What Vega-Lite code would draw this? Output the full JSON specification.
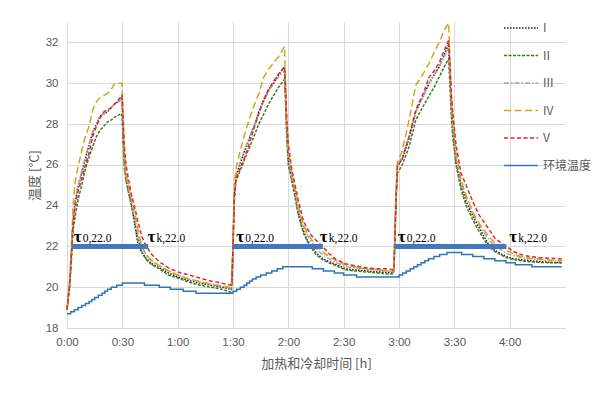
{
  "$schema": "https://vega.github.io/schema/vega-lite/v6.json",
  "width": 498,
  "height": 306,
  "autosize": {"type": "none"},
  "padding": {"left": 67, "top": 22, "right": 35, "bottom": 67},
  "background": "white",
  "config": {
    "view": {"stroke": null},
    "font": "Liberation Sans",
    "axis": {
      "labelColor": "#595959",
      "labelFontSize": 11.5,
      "titleColor": "#595959",
      "titleFont": "Noto Sans CJK SC",
      "titleFontSize": 13,
      "titleFontWeight": "normal",
      "gridColor": "#d9d9d9",
      "domainColor": "#d9d9d9",
      "ticks": false
    }
  },
  "datasets": {
    "curves": [
      {"t": 0, "I": 18.9, "II": 18.9, "III": 18.9, "IV": 18.9, "V": 18.9},
      {"t": 1.5, "I": 20.2, "II": 20.0, "III": 20.2, "IV": 20.5, "V": 20.2},
      {"t": 2.5, "I": 21.8, "II": 21.5, "III": 21.8, "IV": 22.3, "V": 21.8},
      {"t": 3.3, "I": 23.3, "II": 22.8, "III": 23.4, "IV": 24.0, "V": 23.1},
      {"t": 4.3, "I": 24.1, "II": 23.4, "III": 24.2, "IV": 25.1, "V": 23.9},
      {"t": 6, "I": 24.9, "II": 24.3, "III": 25.0, "IV": 25.9, "V": 24.7},
      {"t": 8, "I": 25.6, "II": 25.0, "III": 25.7, "IV": 26.7, "V": 25.3},
      {"t": 10, "I": 26.3, "II": 25.8, "III": 26.4, "IV": 27.4, "V": 26.0},
      {"t": 12, "I": 27.0, "II": 26.4, "III": 27.0, "IV": 27.9, "V": 26.6},
      {"t": 14, "I": 27.6, "II": 26.9, "III": 27.6, "IV": 28.7, "V": 27.4},
      {"t": 16, "I": 28.0, "II": 27.4, "III": 28.0, "IV": 29.1, "V": 27.9},
      {"t": 18, "I": 28.4, "II": 27.7, "III": 28.4, "IV": 29.3, "V": 28.3},
      {"t": 20, "I": 28.5, "II": 27.9, "III": 28.5, "IV": 29.4, "V": 28.6},
      {"t": 22, "I": 28.6, "II": 28.1, "III": 28.6, "IV": 29.5, "V": 28.7},
      {"t": 24, "I": 28.8, "II": 28.2, "III": 28.8, "IV": 29.7, "V": 28.8},
      {"t": 26, "I": 29.0, "II": 28.35, "III": 29.0, "IV": 30.0, "V": 29.0},
      {"t": 28, "I": 29.1, "II": 28.45, "III": 29.1, "IV": 30.0, "V": 29.2},
      {"t": 29.7, "I": 29.3, "II": 28.5, "III": 29.2, "IV": 30.0, "V": 29.4},
      {"t": 30.3, "I": 28.0, "II": 27.4, "III": 28.2, "IV": 29.0, "V": 28.6},
      {"t": 31, "I": 26.2, "II": 25.9, "III": 26.4, "IV": 26.8, "V": 27.0},
      {"t": 32, "I": 25.3, "II": 25.2, "III": 25.5, "IV": 25.6, "V": 26.0},
      {"t": 33.5, "I": 24.6, "II": 24.6, "III": 24.8, "IV": 24.9, "V": 25.2},
      {"t": 35, "I": 24.0, "II": 24.0, "III": 24.2, "IV": 24.3, "V": 24.5},
      {"t": 36.5, "I": 23.2, "II": 23.3, "III": 23.5, "IV": 23.7, "V": 24.0},
      {"t": 38.5, "I": 22.1, "II": 22.3, "III": 22.6, "IV": 22.8, "V": 23.2},
      {"t": 40.5, "I": 21.7, "II": 21.75, "III": 22.0, "IV": 22.0, "V": 22.5},
      {"t": 43, "I": 21.4, "II": 21.35, "III": 21.55, "IV": 21.6, "V": 22.0},
      {"t": 46, "I": 21.15, "II": 21.1, "III": 21.3, "IV": 21.3, "V": 21.6},
      {"t": 50, "I": 20.95, "II": 20.9, "III": 21.05, "IV": 21.05, "V": 21.25},
      {"t": 55, "I": 20.7, "II": 20.6, "III": 20.8, "IV": 20.8, "V": 20.95},
      {"t": 60, "I": 20.5, "II": 20.45, "III": 20.6, "IV": 20.6, "V": 20.75},
      {"t": 66, "I": 20.33, "II": 20.25, "III": 20.4, "IV": 20.4, "V": 20.6},
      {"t": 72, "I": 20.2, "II": 20.1, "III": 20.25, "IV": 20.28, "V": 20.45},
      {"t": 78, "I": 20.1, "II": 20.0, "III": 20.15, "IV": 20.15, "V": 20.3},
      {"t": 84, "I": 20.0, "II": 19.9, "III": 20.05, "IV": 20.05, "V": 20.2},
      {"t": 88.8, "I": 19.9, "II": 19.75, "III": 19.95, "IV": 20.0, "V": 20.1},
      {"t": 89.4, "I": 20.2, "II": 20.0, "III": 20.2, "IV": 20.4, "V": 20.3},
      {"t": 90, "I": 22.0, "II": 21.8, "III": 22.0, "IV": 22.3, "V": 22.0},
      {"t": 90.7, "I": 24.5, "II": 24.2, "III": 24.6, "IV": 25.0, "V": 24.4},
      {"t": 91.6, "I": 25.45, "II": 25.2, "III": 25.5, "IV": 25.8, "V": 25.3},
      {"t": 93.4, "I": 25.9, "II": 25.6, "III": 26.0, "IV": 26.5, "V": 25.7},
      {"t": 96, "I": 26.6, "II": 26.2, "III": 26.7, "IV": 27.4, "V": 26.3},
      {"t": 98.7, "I": 27.25, "II": 26.8, "III": 27.3, "IV": 28.2, "V": 27.0},
      {"t": 101.4, "I": 27.9, "II": 27.4, "III": 27.9, "IV": 28.9, "V": 27.8},
      {"t": 104, "I": 28.6, "II": 28.0, "III": 28.6, "IV": 29.5, "V": 28.5},
      {"t": 106.7, "I": 29.2, "II": 28.5, "III": 29.1, "IV": 30.3, "V": 29.2},
      {"t": 109.4, "I": 29.7, "II": 29.0, "III": 29.6, "IV": 30.7, "V": 29.7},
      {"t": 112, "I": 30.0, "II": 29.4, "III": 30.0, "IV": 31.0, "V": 30.1},
      {"t": 114.7, "I": 30.4, "II": 29.8, "III": 30.3, "IV": 31.3, "V": 30.45},
      {"t": 117.9, "I": 30.8, "II": 30.2, "III": 30.6, "IV": 31.8, "V": 30.8},
      {"t": 118.5, "I": 29.5, "II": 29.0, "III": 29.6, "IV": 30.0, "V": 29.8},
      {"t": 119.1, "I": 27.7, "II": 27.4, "III": 27.9, "IV": 28.2, "V": 28.3},
      {"t": 120, "I": 26.2, "II": 26.0, "III": 26.4, "IV": 26.8, "V": 27.0},
      {"t": 121.8, "I": 25.4, "II": 25.2, "III": 25.5, "IV": 25.6, "V": 25.8},
      {"t": 123, "I": 24.9, "II": 24.7, "III": 25.0, "IV": 25.1, "V": 25.3},
      {"t": 125.3, "I": 23.7, "II": 23.6, "III": 23.9, "IV": 24.0, "V": 24.3},
      {"t": 128, "I": 22.8, "II": 22.7, "III": 23.0, "IV": 23.1, "V": 23.3},
      {"t": 130, "I": 22.35, "II": 22.3, "III": 22.6, "IV": 22.7, "V": 22.9},
      {"t": 132.4, "I": 22.0, "II": 21.95, "III": 22.25, "IV": 22.35, "V": 22.55},
      {"t": 135, "I": 21.7, "II": 21.6, "III": 21.9, "IV": 22.05, "V": 22.3},
      {"t": 138.5, "I": 21.4, "II": 21.35, "III": 21.6, "IV": 21.75, "V": 22.0},
      {"t": 142, "I": 21.25, "II": 21.2, "III": 21.4, "IV": 21.5, "V": 21.65},
      {"t": 146, "I": 21.1, "II": 21.05, "III": 21.2, "IV": 21.3, "V": 21.35},
      {"t": 151, "I": 20.9, "II": 20.85, "III": 21.0, "IV": 21.1, "V": 21.15},
      {"t": 156, "I": 20.85, "II": 20.8, "III": 20.95, "IV": 21.0, "V": 21.05},
      {"t": 162, "I": 20.8, "II": 20.75, "III": 20.9, "IV": 20.9, "V": 20.95},
      {"t": 168, "I": 20.75, "II": 20.7, "III": 20.85, "IV": 20.85, "V": 20.9},
      {"t": 174, "I": 20.72, "II": 20.65, "III": 20.8, "IV": 20.8, "V": 20.9},
      {"t": 176.9, "I": 20.7, "II": 20.65, "III": 20.75, "IV": 20.8, "V": 20.85},
      {"t": 177.3, "I": 21.0, "II": 20.9, "III": 21.0, "IV": 21.2, "V": 21.0},
      {"t": 177.7, "I": 22.2, "II": 22.0, "III": 22.2, "IV": 22.5, "V": 22.2},
      {"t": 178.3, "I": 24.2, "II": 23.8, "III": 24.3, "IV": 24.6, "V": 24.0},
      {"t": 179.1, "I": 25.9, "II": 25.6, "III": 26.0, "IV": 26.1, "V": 25.9},
      {"t": 181.8, "I": 26.3, "II": 26.0, "III": 26.4, "IV": 26.7, "V": 26.3},
      {"t": 185.5, "I": 27.3, "II": 26.9, "III": 27.4, "IV": 28.2, "V": 27.4},
      {"t": 189.1, "I": 28.6, "II": 28.2, "III": 28.6, "IV": 29.9, "V": 28.7},
      {"t": 192.7, "I": 29.3, "II": 28.8, "III": 29.3, "IV": 30.4, "V": 29.4},
      {"t": 196.4, "I": 30.0, "II": 29.4, "III": 30.0, "IV": 31.0, "V": 30.3},
      {"t": 199, "I": 30.4, "II": 29.8, "III": 30.4, "IV": 31.5, "V": 30.6},
      {"t": 201.8, "I": 30.8, "II": 30.3, "III": 30.8, "IV": 32.0, "V": 31.0},
      {"t": 204.5, "I": 31.4, "II": 30.8, "III": 31.3, "IV": 32.6, "V": 31.6},
      {"t": 206.9, "I": 31.9, "II": 31.2, "III": 31.7, "IV": 32.95, "V": 32.1},
      {"t": 207.6, "I": 30.5, "II": 29.9, "III": 30.6, "IV": 31.2, "V": 31.0},
      {"t": 208.3, "I": 29.0, "II": 28.5, "III": 29.2, "IV": 29.6, "V": 29.6},
      {"t": 209.1, "I": 27.8, "II": 27.4, "III": 28.0, "IV": 28.4, "V": 28.6},
      {"t": 210.9, "I": 26.2, "II": 26.0, "III": 26.4, "IV": 26.6, "V": 27.0},
      {"t": 213.6, "I": 25.0, "II": 24.8, "III": 25.1, "IV": 25.3, "V": 25.6},
      {"t": 216.4, "I": 24.2, "II": 24.0, "III": 24.4, "IV": 24.5, "V": 25.0},
      {"t": 220, "I": 23.5, "II": 23.3, "III": 23.6, "IV": 23.7, "V": 24.2},
      {"t": 223, "I": 23.0, "II": 22.8, "III": 23.1, "IV": 23.2, "V": 23.6},
      {"t": 226, "I": 22.5, "II": 22.35, "III": 22.7, "IV": 22.8, "V": 23.2},
      {"t": 229.1, "I": 22.0, "II": 21.95, "III": 22.3, "IV": 22.45, "V": 22.8},
      {"t": 232, "I": 21.8, "II": 21.75, "III": 22.0, "IV": 22.15, "V": 22.4},
      {"t": 235, "I": 21.65, "II": 21.6, "III": 21.85, "IV": 21.95, "V": 22.2},
      {"t": 238.2, "I": 21.5, "II": 21.45, "III": 21.65, "IV": 21.8, "V": 22.0},
      {"t": 242, "I": 21.4, "II": 21.35, "III": 21.55, "IV": 21.65, "V": 21.75},
      {"t": 246, "I": 21.35, "II": 21.3, "III": 21.45, "IV": 21.5, "V": 21.6},
      {"t": 251, "I": 21.3, "II": 21.25, "III": 21.4, "IV": 21.42, "V": 21.5},
      {"t": 256, "I": 21.25, "II": 21.22, "III": 21.35, "IV": 21.38, "V": 21.45},
      {"t": 262, "I": 21.22, "II": 21.2, "III": 21.3, "IV": 21.33, "V": 21.42},
      {"t": 268.2, "I": 21.2, "II": 21.2, "III": 21.28, "IV": 21.3, "V": 21.38}
    ],
    "ambient": [
      {"t": 0, "环境温度": 18.7}, {"t": 2, "环境温度": 18.8}, {"t": 4, "环境温度": 18.9},
      {"t": 6, "环境温度": 19.0}, {"t": 8, "环境温度": 19.1}, {"t": 10, "环境温度": 19.2},
      {"t": 12, "环境温度": 19.3}, {"t": 13.5, "环境温度": 19.4}, {"t": 15, "环境温度": 19.5},
      {"t": 17, "环境温度": 19.6}, {"t": 19, "环境温度": 19.7}, {"t": 20.5, "环境温度": 19.8},
      {"t": 22, "环境温度": 19.9}, {"t": 24, "环境温度": 20.0}, {"t": 27, "环境温度": 20.1},
      {"t": 30, "环境温度": 20.2}, {"t": 42, "环境温度": 20.1}, {"t": 50, "环境温度": 20.0},
      {"t": 56, "环境温度": 19.9}, {"t": 63, "环境温度": 19.8}, {"t": 70, "环境温度": 19.7},
      {"t": 90, "环境温度": 19.8}, {"t": 92, "环境温度": 19.9}, {"t": 94, "环境温度": 20.0},
      {"t": 96, "环境温度": 20.1}, {"t": 97.5, "环境温度": 20.2}, {"t": 99, "环境温度": 20.3},
      {"t": 100.5, "环境温度": 20.4}, {"t": 102.5, "环境温度": 20.5}, {"t": 105, "环境温度": 20.6},
      {"t": 108, "环境温度": 20.7}, {"t": 111, "环境温度": 20.8}, {"t": 114, "环境温度": 20.9},
      {"t": 117, "环境温度": 21.0}, {"t": 133, "环境温度": 20.9}, {"t": 139, "环境温度": 20.8},
      {"t": 145, "环境温度": 20.7}, {"t": 150, "环境温度": 20.6}, {"t": 157, "环境温度": 20.5},
      {"t": 180, "环境温度": 20.6}, {"t": 182, "环境温度": 20.7}, {"t": 184, "环境温度": 20.8},
      {"t": 186, "环境温度": 20.9}, {"t": 188, "环境温度": 21.0}, {"t": 190, "环境温度": 21.1},
      {"t": 192, "环境温度": 21.2}, {"t": 194, "环境温度": 21.3}, {"t": 196, "环境温度": 21.4},
      {"t": 199, "环境温度": 21.5}, {"t": 202, "环境温度": 21.6}, {"t": 206, "环境温度": 21.7},
      {"t": 214, "环境温度": 21.6}, {"t": 220, "环境温度": 21.5}, {"t": 226, "环境温度": 21.4},
      {"t": 232, "环境温度": 21.3}, {"t": 238, "环境温度": 21.2}, {"t": 243, "环境温度": 21.1},
      {"t": 252, "环境温度": 21.0}, {"t": 268.2, "环境温度": 21.0}
    ],
    "bars": [
      {"a": 2.5, "b": 44, "y": 22},
      {"a": 90, "b": 138.7, "y": 22},
      {"a": 177.6, "b": 238.2, "y": 22}
    ],
    "taus": [
      {"t": 3.6, "y": 22, "sub": "0,22.0"},
      {"t": 43.6, "y": 22, "sub": "k,22.0"},
      {"t": 91.8, "y": 22, "sub": "0,22.0"},
      {"t": 137.1, "y": 22, "sub": "k,22.0"},
      {"t": 179.3, "y": 22, "sub": "0,22.0"},
      {"t": 239.8, "y": 22, "sub": "k,22.0"}
    ]
  },
  "layer": [
    {
      "data": {"name": "curves"},
      "transform": [{"fold": ["I", "II", "III", "IV", "V"], "as": ["s", "v"]}],
      "mark": {"type": "line", "strokeWidth": 1.5},
      "encoding": {
        "x": {
          "field": "t", "type": "quantitative",
          "scale": {"domain": [0, 270], "nice": false, "zero": false},
          "axis": {
            "values": [0, 30, 60, 90, 120, 150, 180, 210, 240],
            "labelExpr": "floor(datum.value/60) + ':' + (datum.value%60 < 10 ? '0' : '') + (datum.value%60)",
            "labelFlush": false,
            "labelPadding": 8,
            "grid": true,
            "domain": true,
            "title": "加热和冷却时间 [h]",
            "titlePadding": 10
          }
        },
        "y": {
          "field": "v", "type": "quantitative",
          "scale": {"domain": [18, 33], "nice": false, "zero": false},
          "axis": {
            "values": [18, 20, 22, 24, 26, 28, 30, 32],
            "labelPadding": 9,
            "grid": true,
            "domain": false,
            "title": "温度 [°C]",
            "titlePadding": 4
          }
        },
        "color": {
          "field": "s", "type": "nominal",
          "scale": {
            "domain": ["I", "II", "III", "IV", "V", "环境温度"],
            "range": ["#1a1a1a", "#467528", "#a6a6a6", "#d8a31a", "#e0262b", "#2e75b6"]
          },
          "legend": {
            "orient": "none",
            "legendX": 436,
            "legendY": -12,
            "title": null,
            "symbolType": "stroke",
            "symbolSize": 1156,
            "symbolStrokeWidth": 1.5,
            "labelFontSize": 12,
            "labelColor": "#595959",
            "labelFont": "Noto Sans CJK SC",
            "labelOffset": 4,
            "rowPadding": 3.5
          }
        },
        "strokeDash": {
          "field": "s", "type": "nominal",
          "scale": {
            "domain": ["I", "II", "III", "IV", "V", "环境温度"],
            "range": [[1.5, 1.5], [3, 1.5], [5, 2, 1.5, 2], [7, 3.5], [4, 2.5], [1, 0]]
          }
        }
      }
    },
    {
      "data": {"name": "ambient"},
      "transform": [{"fold": ["环境温度"], "as": ["s", "v"]}],
      "mark": {"type": "line", "strokeWidth": 1.5, "interpolate": "step-after"},
      "encoding": {
        "x": {"field": "t", "type": "quantitative"},
        "y": {"field": "v", "type": "quantitative"},
        "color": {"field": "s", "type": "nominal"},
        "strokeDash": {"field": "s", "type": "nominal"}
      }
    },
    {
      "data": {"name": "bars"},
      "mark": {"type": "rule", "strokeWidth": 5, "color": "#4178be"},
      "encoding": {
        "x": {"field": "a", "type": "quantitative"},
        "x2": {"field": "b"},
        "y": {"field": "y", "type": "quantitative"}
      }
    },
    {
      "data": {"name": "taus"},
      "mark": {"type": "text", "text": "τ", "align": "left", "baseline": "alphabetic", "dy": -4, "font": "Liberation Serif", "fontSize": 17, "fontWeight": "bold", "color": "#000000"},
      "encoding": {
        "x": {"field": "t", "type": "quantitative"},
        "y": {"field": "y", "type": "quantitative"}
      }
    },
    {
      "data": {"name": "taus"},
      "mark": {"type": "text", "align": "left", "baseline": "alphabetic", "dx": 9, "dy": -4, "font": "Liberation Serif", "fontSize": 11.5, "color": "#000000"},
      "encoding": {
        "x": {"field": "t", "type": "quantitative"},
        "y": {"field": "y", "type": "quantitative"},
        "text": {"field": "sub", "type": "nominal"}
      }
    }
  ]
}
